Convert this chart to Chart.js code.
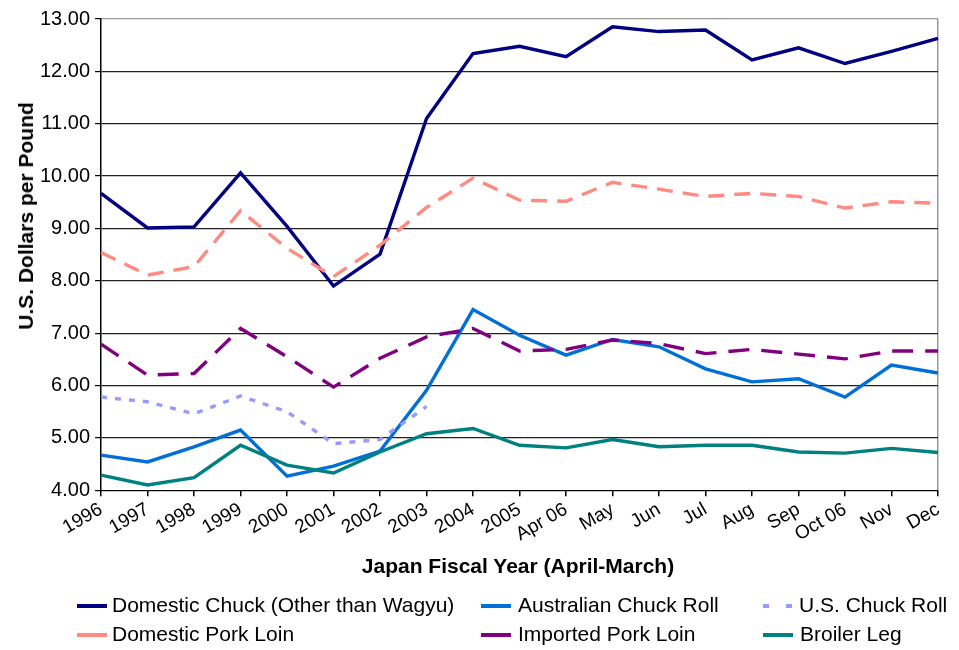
<!DOCTYPE html>
<html>
<head>
<meta charset="utf-8">
<script src="https://cdn.jsdelivr.net/npm/chart.js@4.4.0/dist/chart.umd.min.js"></script>
<style>
  html, body { margin:0; padding:0; background:#fff; }
  #wrap { position:relative; width:959px; height:650px; overflow:hidden; }
  canvas { display:block; }
  .txt { position:absolute; font-family:"Liberation Sans", Arial, sans-serif; color:#000; white-space:nowrap; }
  .leg { position:absolute; font-family:"Liberation Sans", Arial, sans-serif; font-size:21px; color:#000; white-space:nowrap; line-height:24px; height:24px; }
  .leg svg { position:absolute; left:0; top:10px; }
  .leg span { position:absolute; top:0; }
</style>
</head>
<body>
<div id="wrap"><canvas id="c" width="959" height="650"></canvas></div>
<script>
const categories = ["1996","1997","1998","1999","2000","2001","2002","2003","2004","2005","Apr 06","May","Jun","Jul","Aug","Sep","Oct 06","Nov","Dec"];
const domesticChuck = [9.67, 9.01, 9.03, 10.06, 9.04, 7.90, 8.51, 11.10, 12.34, 12.48, 12.28, 12.85, 12.76, 12.79, 12.22, 12.45, 12.15, 12.38, 12.63];
const australianChuckRoll = [4.67, 4.54, 4.83, 5.15, 4.27, 4.46, 4.75, 5.91, 7.45, 6.96, 6.58, 6.88, 6.74, 6.32, 6.07, 6.13, 5.78, 6.39, 6.24];
const usChuckRoll = [5.78, 5.69, 5.46, 5.80, 5.50, 4.89, 4.97, 5.60, null, null, null, null, null, null, null, null, null, null, null];
const domesticPorkLoin = [8.54, 8.11, 8.27, 9.34, 8.62, 8.08, 8.68, 9.40, 9.96, 9.54, 9.52, 9.88, 9.75, 9.61, 9.67, 9.61, 9.39, 9.51, 9.48];
const importedPorkLoin = [6.79, 6.20, 6.23, 7.09, 6.55, 5.97, 6.52, 6.93, 7.09, 6.66, 6.69, 6.87, 6.80, 6.61, 6.69, 6.60, 6.51, 6.66, 6.66];
const broilerLeg = [4.29, 4.10, 4.24, 4.86, 4.48, 4.33, 4.73, 5.08, 5.18, 4.86, 4.81, 4.97, 4.83, 4.86, 4.86, 4.73, 4.71, 4.80, 4.72];
const seriesNames = ["Domestic Chuck (Other than Wagyu)", "Australian Chuck Roll", "U.S. Chuck Roll", "Domestic Pork Loin", "Imported Pork Loin", "Broiler Leg"];
const yTicks = [4,5,6,7,8,9,10,11,12,13];
const xTitle = "Japan Fiscal Year (April-March)";
const yTitle = "U.S. Dollars per Pound";

const FONT = "'Liberation Sans', Arial, sans-serif";
const styles = [
  {color:'#000080', dash:[]},
  {color:'#0070D8', dash:[]},
  {color:'#9999FF', dash:[6,8]},
  {color:'#FF8A80', dash:[16,10]},
  {color:'#800080', dash:[21,12]},
  {color:'#008080', dash:[]}
];
const seriesData = [domesticChuck, australianChuckRoll, usChuckRoll, domesticPorkLoin, importedPorkLoin, broilerLeg];

const datasets = seriesData.map((d,i)=>({
  label: seriesNames[i],
  data: d,
  borderColor: styles[i].color,
  backgroundColor: styles[i].color,
  borderWidth: 3.4,
  borderDash: styles[i].dash,
  pointRadius: 0,
  tension: 0,
  fill: false,
  spanGaps: false,
  order: 6 - i
}));

new Chart(document.getElementById('c'), {
  type: 'line',
  data: { labels: categories, datasets },
  options: {
    responsive: false,
    animation: false,
    layout: { padding: { top: 19, right: 21, left: 35, bottom: 102 } },
    plugins: { legend: { display:false }, tooltip: { enabled:false } },
    scales: {
      x: {
        offset: false,
        border: { color:'#000', width:1 },
        grid: {
          drawOnChartArea: true,
          color: (ctx)=> (ctx.index === categories.length-1 ? '#999' : 'rgba(0,0,0,0)'),
          tickColor: '#000',
          tickLength: 6,
          lineWidth: 1.5
        },
        ticks: { color:'#000', font:{ family:FONT, size:19 }, minRotation:30, maxRotation:30, autoSkip:false, padding:2 }
      },
      y: {
        min: 4, max: 13,
        afterBuildTicks: (axis)=>{ axis.ticks = yTicks.map(v=>({value:v})); },
        border: { color:'#000', width:1.5 },
        grid: {
          color: (ctx)=> (ctx.tick && ctx.tick.value === 13 ? '#999' : '#222'),
          lineWidth: 1.2,
          tickColor:'#000',
          tickLength: 6
        },
        ticks: { color:'#000', font:{ family:FONT, size:20 }, padding:5, callback:(v)=> Number(v).toFixed(2) }
      }
    }
  }
});

const wrap = document.getElementById('wrap');
const xt = document.createElement('div');
xt.className = 'txt';
xt.style.cssText += 'font-size:21px;font-weight:bold;left:518px;top:566px;transform:translate(-50%,-50%);';
xt.textContent = xTitle;
wrap.appendChild(xt);
const yt = document.createElement('div');
yt.className = 'txt';
yt.style.cssText += 'font-size:21px;font-weight:bold;left:26px;top:216px;transform:translate(-50%,-50%) rotate(-90deg);';
yt.textContent = yTitle;
wrap.appendChild(yt);

const legPos = [
  {x:76, y:593}, {x:480, y:593}, {x:762, y:593},
  {x:76, y:622}, {x:480, y:622}, {x:762, y:622}
];
const legTextOff = [36, 38, 37, 36, 38, 38];
seriesNames.forEach((name,i)=>{
  const div = document.createElement('div');
  div.className = 'leg';
  div.style.left = legPos[i].x + 'px';
  div.style.top = legPos[i].y + 'px';
  const dash = (i === 2) ? ' stroke-dasharray="6,17"' : '';
  div.innerHTML = '<svg width="32" height="6"><line x1="1" y1="3" x2="31" y2="3" stroke="'+styles[i].color+'" stroke-width="4"'+dash+'/></svg><span style="left:'+legTextOff[i]+'px">'+name+'</span>';
  wrap.appendChild(div);
});
</script>
</body>
</html>
